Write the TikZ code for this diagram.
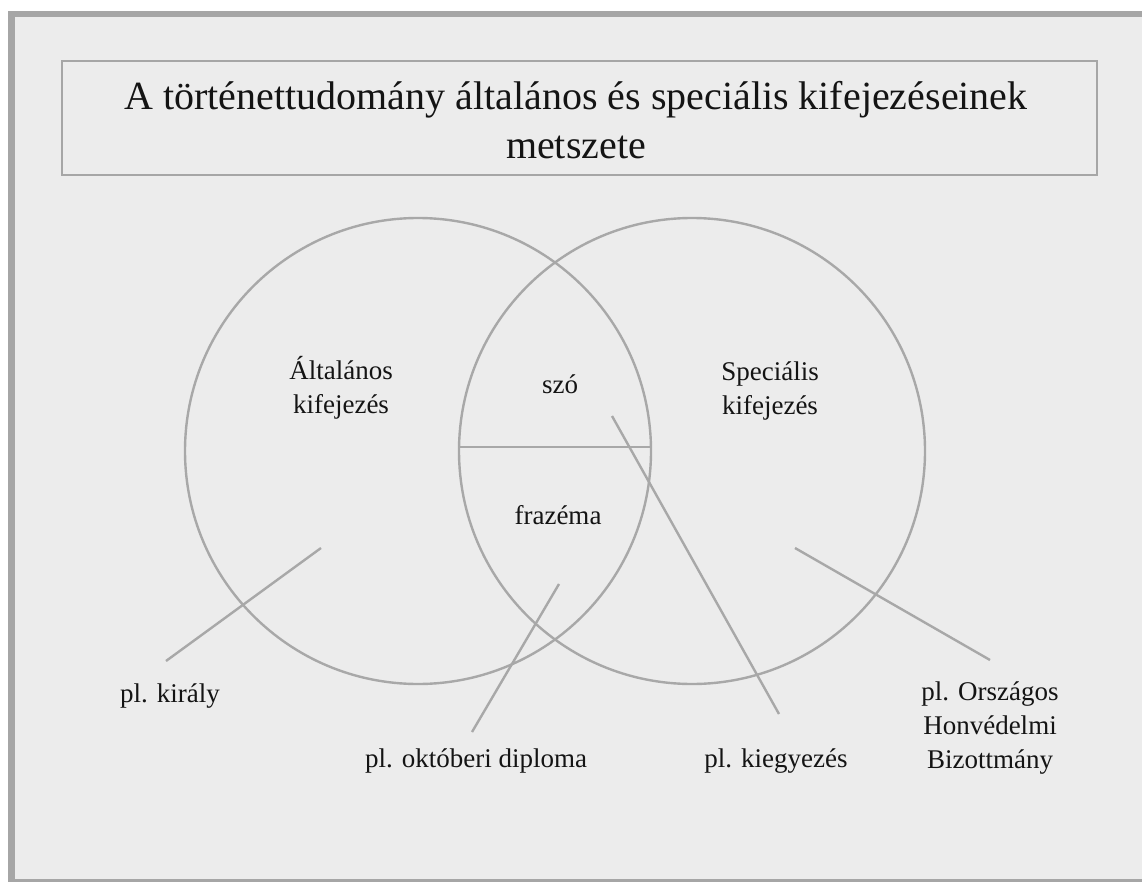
\documentclass[tikz,border=0pt]{standalone}
\usepackage{fontspec}
\setmainfont{Liberation Serif}
\definecolor{framegray}{HTML}{A6A6A6}
\definecolor{linegray}{HTML}{A8A8A8}
\definecolor{bggray}{HTML}{ECECEC}
\definecolor{txt}{HTML}{141414}
\begin{document}
\begin{tikzpicture}[x=1pt,y=-1pt,
  conn/.style={draw=linegray,line width=2.4pt},
  ring/.style={draw=linegray,line width=2.4pt},
  lbl/.style={text=txt,font=\fontsize{27}{34}\selectfont,inner sep=0pt,align=center,anchor=base},
  ttl/.style={text=txt,font=\fontsize{40}{49}\selectfont,inner sep=0pt,align=center,anchor=base}]
\useasboundingbox (0,0) rectangle (1142,882);
\fill[white] (-5,-5) rectangle (1150,890);
\fill[bggray] (15,17) rectangle (1150,879);
\fill[framegray] (8,11) rectangle (1150,17);
\fill[framegray] (8,11) rectangle (15,890);
\fill[framegray] (8,879) rectangle (1150,890);
% title box
\draw[draw=framegray,line width=2.4pt] (62,61) rectangle (1097,175);
\node[ttl] (title) at (576,159) {A történettudomány általános és speciális kifejezéseinek\\metszete};
% circles
\draw[ring] (418,451) circle[radius=233];
\draw[ring] (692,451) circle[radius=233];
\coordinate (hl) at (459,447);
\coordinate (hr) at (651,447);
\draw[conn] (hl) -- (hr);
% labels
\node[lbl] (gen) at (341,413) {Általános\\kifejezés};
\node[lbl] (spec) at (770,414) {Speciális\\kifejezés};
\node[lbl] (szo) at (560,393) {szó};
\node[lbl] (fraz) at (558,524) {frazéma};
\node[lbl] (kiraly) at (170,702) {pl. király};
\node[lbl] (oktober) at (476,767) {pl. októberi diploma};
\node[lbl] (kiegy) at (776,767) {pl. kiegyezés};
\node[lbl] (ohb) at (990,768) {pl. Országos\\Honvédelmi\\Bizottmány};
% connectors
\coordinate (k1) at (321,548); \coordinate (k2) at (166,661);
\coordinate (o1) at (559,584); \coordinate (o2) at (472,732);
\coordinate (e1) at (612,416); \coordinate (e2) at (779,714);
\coordinate (h1) at (795,548); \coordinate (h2) at (990,660);
\draw[conn] (k1) -- (k2);
\draw[conn] (o1) -- (o2);
\draw[conn] (e1) -- (e2);
\draw[conn] (h1) -- (h2);
\end{tikzpicture}
\end{document}
